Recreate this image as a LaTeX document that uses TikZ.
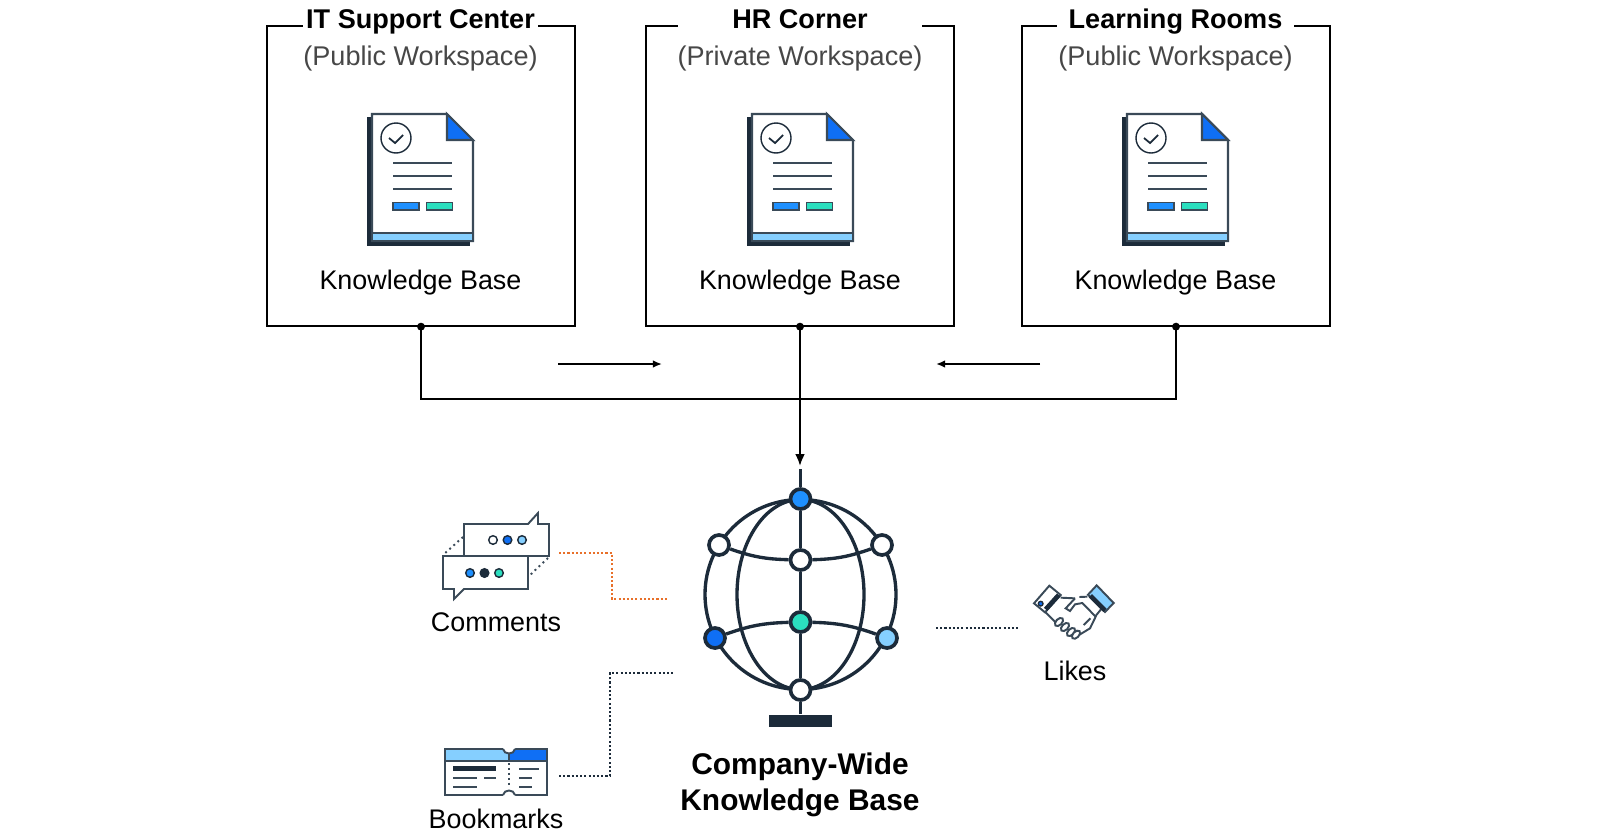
\documentclass[tikz,border=0pt]{standalone}
\usepackage{fontspec}
\setmainfont{Liberation Sans}
\usetikzlibrary{arrows.meta,positioning}
\definecolor{navy}{HTML}{1C2B3A}
\definecolor{slate}{HTML}{3A4A58}
\definecolor{deepblue}{HTML}{0F6FF5}
\definecolor{midblue}{HTML}{1E90FF}
\definecolor{skyblue}{HTML}{85CFFF}
\definecolor{teal}{HTML}{2BDFBF}
\definecolor{rust}{HTML}{E8702A}

\tikzset{
    docicon/.pic={
        \fill[navy] (-5.5,3) rectangle (1,132);
        \fill[navy] (-5.5,125) rectangle (98,132);
        \draw[slate, fill=white, line width=0.6pt] (0,0) -- (75,0) -- (101,26) -- (101,127) -- (0,127) -- cycle;
        \draw[slate, fill=deepblue, line width=0.6pt] (75,0) -- (101,26) -- (75,26) -- cycle;
        \draw[slate, fill=skyblue, line width=0.6pt] (0,119) rectangle (101,127);
        \draw[navy, line width=0.4pt] (24,24) circle (15);
        \draw[navy, line width=0.5pt] (17,24) -- (23,29) -- (31,21);
        \draw[slate, line width=0.55pt] (21,49) -- (80,49);
        \draw[slate, line width=0.55pt] (21,62) -- (80,62);
        \draw[slate, line width=0.55pt] (21,75) -- (80,75);
        \draw[slate, fill=midblue, line width=0.55pt] (21,88.5) rectangle (47,96);
        \draw[slate, fill=teal, line width=0.55pt] (54.5,88.5) rectangle (80.5,96);
    },
}

\begin{document}
\begin{tikzpicture}[
    x=0.01cm, y=-0.01cm,
    wsbox/.style={
        draw=black,
        line width=0.6pt,
        minimum width=3.08cm,
        minimum height=2.99cm,
        inner sep=0pt,
    },
    wstitle/.style={
        fill=white,
        inner sep=0pt,
        text height=0.2cm,
        text depth=0.05cm,
        font=\fontsize{7.7}{9}\selectfont\bfseries,
    },
    wssub/.style={
        text=black!72,
        text height=0.2cm,
        text depth=0.05cm,
        font=\fontsize{7.7}{9}\selectfont,
    },
    iconlabel/.style={
        text=black,
        font=\fontsize{7.65}{9}\selectfont,
    },
    wire/.style={
        draw=black,
        line width=0.6pt,
    },
    flowtip/.style={
        wire,
        -{Latex[length=2.6pt,width=2.2pt]},
    },
    dotlink/.style={
        line width=0.6pt,
        dash pattern=on 0.6pt off 0.6pt,
    },
    globeline/.style={
        draw=navy,
        line width=0.95pt,
    },
    globenode/.style={
        circle,
        draw=navy,
        line width=1.05pt,
        minimum size=0.2cm,
        inner sep=0pt,
        fill=white,
    },
    iconline/.style={
        draw=slate,
        line width=0.55pt,
    },
    icondot/.style={
        draw=navy,
        line width=0.4pt,
    },
]
\useasboundingbox (0,0) rectangle (1600,839);

% workspaces
\node[wsbox] (itbox) at (421,176) {};
\node[wsbox] (hrbox) at (800,176) {};
\node[wsbox] (lrbox) at (1176,176) {};

\node[wstitle, minimum width=2.34cm] (ittitle) at (420.5,21) {IT Support Center};
\node[wstitle, minimum width=2.44cm] (hrtitle) at (800,21) {HR Corner};
\node[wstitle, minimum width=2.36cm] (lrtitle) at (1175.5,21) {Learning Rooms};

\node[wssub] (itsub) at (420.5,58) {(Public Workspace)};
\node[wssub] (hrsub) at (800,58) {(Private Workspace)};
\node[wssub] (lrsub) at (1175.5,58) {(Public Workspace)};

\pic at (372,114) {docicon};
\pic at (752,114) {docicon};
\pic at (1127,114) {docicon};

\node[iconlabel] (itkb) at (420.5,283) {Knowledge Base};
\node[iconlabel] (hrkb) at (800,283) {Knowledge Base};
\node[iconlabel] (lrkb) at (1175.5,283) {Knowledge Base};

% connectors
\coordinate (globein) at (800,466);
\draw[wire, shorten <=-1.1pt, shorten >=-1.1pt, {Circle[length=2.2pt]}-{Circle[length=2.2pt]}] (itbox.south) -- ++(0,72.5) -| (lrbox.south);
\draw[wire, shorten <=-1.1pt, {Circle[length=2.2pt]}-{Latex[length=3.4pt,width=2.8pt]}] (hrbox.south) -- (globein);

\coordinate (leftfrom) at (558,364);
\coordinate (leftto) at (662,364);
\coordinate (rightfrom) at (1040,364);
\coordinate (rightto) at (936,364);
\draw[flowtip] (leftfrom) -- (leftto);
\draw[flowtip] (rightfrom) -- (rightto);

% globe
\draw[globeline] (800.5,594.5) ellipse (95.5 and 95);
\draw[globeline] (800.5,594.5) ellipse (63.5 and 95);
\coordinate (globestub) at (800.5,469);
\node[globenode, fill=midblue] (gtop) at (800.5,499) {};
\node[globenode] (gul) at (719,545) {};
\node[globenode] (gur) at (882,545) {};
\node[globenode] (guc) at (800.5,560) {};
\node[globenode, fill=teal] (glc) at (800.5,622) {};
\node[globenode, fill=deepblue] (gll) at (715,638) {};
\node[globenode, fill=skyblue] (glr) at (887,638) {};
\node[globenode] (gbot) at (800.5,690) {};
\node[fill=navy, minimum width=0.63cm, minimum height=0.12cm, inner sep=0pt] (gbase) at (800.5,721) {};
\draw[globeline] (globestub) -- (gtop);
\draw[globeline] (gtop) -- (guc);
\draw[globeline] (guc) -- (glc);
\draw[globeline] (glc) -- (gbot);
\draw[globeline] (gbot) -- (gbase);
\draw[globeline] (gul) to[bend right=9] (guc);
\draw[globeline] (guc) to[bend right=9] (gur);
\draw[globeline] (gll) to[bend left=9] (glc);
\draw[globeline] (glc) to[bend left=9] (glr);

\node[font=\fontsize{8.5}{10}\selectfont\bfseries] (cwtop) at (800,766.5) {Company-Wide};
\node[font=\fontsize{8.5}{10}\selectfont\bfseries] (cwbot) at (800,802.5) {Knowledge Base};

% comments icon
\draw[slate, line width=0.55pt, dash pattern=on 0.55pt off 1pt] (463,537) -- (443,555);
\draw[slate, line width=0.55pt, dash pattern=on 0.55pt off 1pt] (548,558) -- (529,576);
\draw[iconline, fill=white] (464,524) -- (528,524) -- (538,513) -- (538,524) -- (549,524) -- (549,556) -- (464,556) -- cycle;
\draw[iconline, fill=white] (443,556) -- (528,556) -- (528,589) -- (464,589) -- (454,599) -- (454,589) -- (443,589) -- cycle;
\draw[icondot, fill=white] (493,540) circle (4.3);
\draw[icondot, fill=deepblue] (507.5,540) circle (4.3);
\draw[icondot, fill=skyblue] (522,540) circle (4.3);
\draw[icondot, fill=midblue] (470,573) circle (4.3);
\draw[icondot, fill=navy] (484.5,573) circle (4.3);
\draw[icondot, fill=teal] (499,573) circle (4.3);
\node[iconlabel] (cmtlabel) at (496,622.5) {Comments};

% bookmarks icon
\draw[iconline, fill=white] (445,749) rectangle (547,795);
\fill[skyblue] (445,749) rectangle (509,761);
\fill[deepblue] (509,749) rectangle (547,761);
\draw[iconline] (445,749) rectangle (547,761);
\draw[slate, line width=0.5pt] (509,749) -- (509,761);
\fill[white] (503,747.5) -- (515,747.5) -- (515,749) .. controls (514,755) and (504,755) .. (503,749) -- cycle;
\draw[iconline] (503,749) .. controls (504,755) and (514,755) .. (515,749);
\fill[white] (503,796.5) -- (515,796.5) -- (515,795) .. controls (514,789) and (504,789) .. (503,795) -- cycle;
\draw[iconline] (503,795) .. controls (504,789) and (514,789) .. (515,795);
\draw[slate, line width=0.5pt, dash pattern=on 0.6pt off 0.8pt] (509,763) -- (509,787);
\fill[navy] (453,766) rectangle (496,771);
\draw[iconline] (453,778) -- (477,778);
\draw[iconline] (484,778) -- (496,778);
\draw[iconline] (453,787) -- (477,787);
\draw[iconline] (519,769) -- (539,769);
\draw[iconline] (519,778) -- (532,778);
\draw[iconline] (519,787) -- (532,787);
\node[iconlabel] (bmlabel) at (496,819) {Bookmarks};

% handshake icon
\begin{scope}[shift={(1025,575)}, scale=1/3]
\draw[iconline] (107,68) -- (150,70);
\draw[iconline] (163,66) -- (187,65);
\draw[iconline] (60,110) -- (95,145);
\draw[iconline, fill=white] (150,70) -- (122,100) -- (135,108) -- (150,88) -- (172,84) -- (212,125) -- (195,160) -- (162,180);
\draw[iconline] (228,103) -- (210,125);
\draw[iconline] (176,150) -- (196,130);
\foreach \fx/\fy in {102/141, 120/156, 138/171, 153/179} {
    \draw[iconline, fill=white, rotate around={45:(\fx,\fy)}] (\fx,\fy) ellipse (15 and 9);
}
\draw[iconline, fill=white] (27,85) -- (73,32) -- (107,60) -- (60,112) -- cycle;
\draw[navy, line width=1.3pt] (62,103) -- (101,60);
\draw[icondot, fill=deepblue] (47,86) circle (7);
\draw[iconline, fill=skyblue] (215,31) -- (266,84) -- (240,111) -- (189,59) -- cycle;
\draw[navy, line width=1.3pt] (196,62) -- (240,106);
\end{scope}
\node[iconlabel] (likelabel) at (1075,671) {Likes};

% dotted links
\coordinate (cmtout) at (559,553);
\coordinate (cmtin) at (668,599);
\draw[dotlink, rust] (cmtout) -| (612,599) -- (cmtin);
\coordinate (bmout) at (559,776);
\coordinate (bmin) at (673,673);
\draw[dotlink, navy] (bmout) -| (610,673) -- (bmin);
\coordinate (likeout) at (1020,628);
\coordinate (likein) at (936,628);
\draw[dotlink, navy] (likein) -- (likeout);

\end{tikzpicture}
\end{document}
